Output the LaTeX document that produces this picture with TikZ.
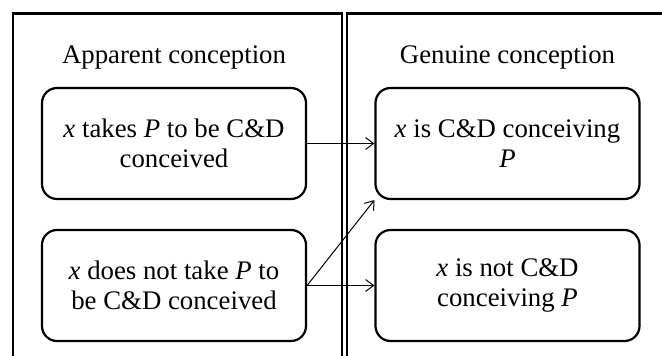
\documentclass[tikz,border=0pt]{standalone}
\usepackage{fontspec}
\setmainfont{Liberation Serif}
\usetikzlibrary{arrows.meta,
positioning}

\begin{document}
\begin{tikzpicture} [-{Straight Barb[length=8pt, width=12pt]},
    x = 1pt, y = 1pt,
    line width = 1pt,
    main node/.style={rectangle, rounded corners = 15pt, draw,
        line width = 2.2pt, align=center,
        minimum width = 264pt, minimum height = 111pt},
    panel/.style={rectangle, draw, line width = 2.4pt,
        anchor = north west, minimum width = 329pt, minimum height = 400pt},
    every node/.style={font=\fontsize{26.8}{30}\selectfont}
  ]

  \path [use as bounding box, clip] (0, 0) rectangle (662, 356);

  \node [panel] (apppanel) at (12, 343.5) {};
  \node [panel] (genpanel) at (346, 343.5) {};

  \node [main node] (apptakes) at (174, 212.5)
  {\textit{x} takes \textit{P} to be C\&D\\conceived};

  \node [main node,
    below = 28.8pt of apptakes
  ] (appnot) {\textit{x} does not take \textit{P} to\\be C\&D conceived};

  \node [main node,
    right = 67.3pt of apptakes
  ] (genis) {\textit{x} is C\&D conceiving\\\textit{P}};

  \node [main node,
    right = 67.3pt of appnot
  ] (gennot) {\textit{x} is not C\&D\\conceiving \textit{P}};

  \node [above = 14pt of apptakes] (apptitle) {Apparent conception};
  \node [above = 14pt of genis] (gentitle) {Genuine conception};

  \draw (apptakes.east) -> (genis.west);
  \draw (appnot.east) -> (gennot.west);
  \draw (appnot.east) -> (genis.south west);

\end{tikzpicture}
\end{document}
